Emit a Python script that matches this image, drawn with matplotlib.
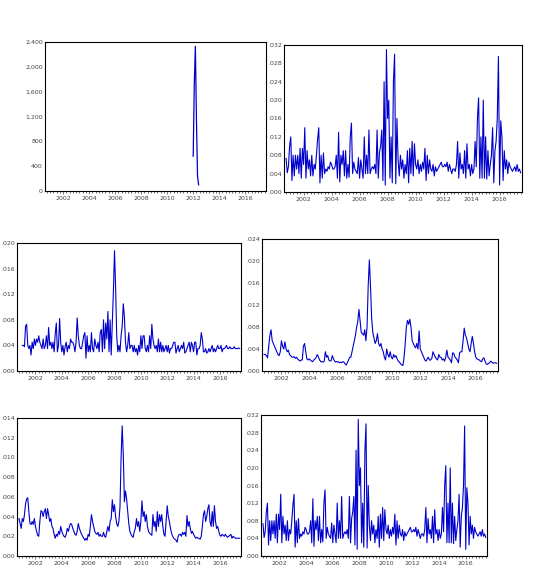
import numpy as np
import matplotlib
matplotlib.use("Agg")
import matplotlib.pyplot as plt
from matplotlib.ticker import FuncFormatter, MultipleLocator

nan = np.nan
# monthly observations starting Oct 2000 (values x1000 for panels b-f)
series_a_months = [2012.0, 2012.083, 2012.167, 2012.25, 2012.333, 2012.417]
series_a = [560, 1720, 2330, 1150, 240, 100]

series_b = [7.3, 4.2, 5.5,
 10, 12, 2.5, 8, 3.5, 8, 5, 8, 4, 9.5, 3, 9.5,
 6, 14, 3, 9, 5, 7, 3.5, 8, 3.5, 6, 5, 8,
 11.5, 14, 2, 8, 3, 8.5, 4, 5, 4.5, 5.5, 5, 6.5,
 6, 5, 5, 5.5, 8, 3, 13, 2.2, 8, 6, 9, 3.5,
 9, 3, 6, 3.2, 12, 15, 4, 6.5, 5, 4.5, 4, 7.5,
 3, 7, 5, 3, 12, 4, 8, 4, 13.5, 4, 5, 5.5,
 5, 6, 4, 13.5, 3, 8.5, 10, 13.5, 2.5, 24, 1.5, 31,
 16, 20, 3, 12, 2, 24, 30, 1.8, 16, 7, 3.5, 8,
 5, 7, 3, 6, 4, 9, 2, 9.5, 4, 11, 3.5, 10.5,
 6, 5, 7, 4, 6, 4.5, 6.5, 5, 9.5, 2.5, 8, 4,
 7, 5, 4.5, 6, 3.5, 5.5, 4.5, 5, 5.5, 6, 6.5, 5.5,
 5.5, 6, 5.5, 6.5, 4.5, 6, 5, 4, 5, 5, 4.5, 6,
 11, 3, 8.5, 5, 6, 4, 9, 3, 10.5, 5, 6, 3.5,
 6, 4, 5, 11, 5.5, 16, 20.5, 3, 12, 3, 20, 3,
 12, 2.8, 9, 3.5, 6, 8, 14, 2, 9, 11, 16, 29.5,
 1.5, 15.5, 12, 2.5, 9, 5, 7, 4, 6.5, 5.5, 5, 4.5,
 5, 5.5, 4.5, 6, 4.5, 5, 4.2]

series_c = [nan, nan, nan,
 4, 4, 3.8, 7, 7.3, 4, 3.5, 4, 2.5, 4.5, 3.5, 5,
 4, 5, 4.5, 5.5, 4.5, 4, 3.5, 5, 3.5, 4, 5.5, 3.5,
 6.8, 4, 4.5, 3.5, 4.5, 3, 5.8, 7.5, 3, 4, 8.2, 4.5,
 3, 4, 2.5, 3.8, 4.5, 3, 4, 3.5, 5, 4.5, 4.5, 4,
 3, 4.5, 8.3, 5.5, 4, 3.5, 3.5, 4.5, 5.5, 6, 2, 5.5,
 3, 4, 3, 6, 3.5, 3, 5, 4, 3.5, 4.5, 3, 6,
 6.5, 3, 8, 3.5, 7.5, 5, 9.3, 3, 8, 2.5, 7.5, 12.5,
 18.8, 13, 5.5, 3, 4, 3, 5.5, 7, 10.5, 8.5, 4.5, 3,
 4, 6, 3.5, 4, 4, 3, 4, 3, 3.5, 2.5, 4, 3,
 5.5, 3.5, 5.5, 5.5, 3.5, 3, 4, 3, 5.5, 3.5, 7.3, 5,
 4, 3.5, 4, 3, 5, 3, 4.5, 3, 4, 3, 3.5, 4,
 3, 4, 2.8, 3.5, 3.5, 4, 4.5, 4.5, 2.8, 3.5, 4, 3,
 3.5, 4, 3.5, 4.5, 2.8, 3, 3.5, 4, 4.5, 3, 4.5, 4,
 3, 4.5, 4.5, 2.5, 3.5, 3.5, 4, 6, 5, 3, 3, 3.5,
 2.8, 3, 3.5, 3, 3.5, 4, 3, 3.5, 3, 3.5, 4, 3.5,
 3.5, 4, 3, 3.5, 3.5, 3.7, 4, 3.5, 3.5, 3.8, 3.5, 3.5,
 3.5, 3.8, 3.5, 3.5, 3.5, 3.6, 3.5]

series_d = [3, 3, 2.8,
 2.4, 4.5, 6.5, 7.5, 5.5, 5, 4.5, 4, 3.5, 3, 2.8, 3.5,
 5.5, 4.5, 4, 5.3, 4, 3.5, 3.8, 3, 2.8, 2.5, 2.5, 2.6,
 2.3, 2.5, 2.2, 2, 1.8, 2, 2, 4.5, 5, 3.5, 2.2, 2,
 2.2, 2, 1.8, 1.7, 2, 2.2, 2.5, 3, 2.5, 2, 1.7, 1.7,
 1.6, 1.8, 3.5, 2.5, 2.8, 2, 1.8, 1.9, 2.8, 2.2, 1.8, 1.6,
 1.7, 1.7, 1.5, 1.6, 1.5, 1.7, 1.6, 1.3, 1.1, 1.5, 2, 2.5,
 2.5, 3.5, 4.5, 5.5, 6.5, 8, 9, 11.2, 9, 7, 6.8, 6.5,
 7.5, 5.5, 8, 15.5, 20.2, 15.3, 9.5, 7, 6, 5, 5.5, 6.8,
 5, 4.5, 5, 4, 3.5, 2.5, 2, 4, 3, 2.5, 3.5, 2.5,
 2.2, 3, 2.5, 2.8, 2.2, 1.8, 1.6, 1.3, 1.1, 1, 2.5, 5,
 8, 9.2, 8.5, 9.4, 8, 5.5, 5, 4.5, 4.2, 5, 4, 7.3,
 4, 3.5, 3, 2.5, 2, 1.8, 2.2, 2.5, 2, 2, 2.3, 3.5,
 3, 2.5, 2.2, 2, 3, 2.5, 2.5, 2, 2.2, 1.8, 2.5, 3.8,
 2.5, 2.3, 2, 1.5, 3.3, 3.2, 2.5, 2.3, 2, 1.5, 3.3, 3.5,
 3.5, 5.5, 7.8, 6.5, 6, 5, 4, 3.5, 5, 6.3, 5, 3.5,
 2.5, 2.2, 2.1, 2, 1.8, 1.7, 2.2, 2.4, 1.8, 1.3, 1.2, 1.4,
 1.5, 1.8, 1.6, 1.4, 1.5, 1.5, 1.4]

series_e = [3.8, 3.3, 2.8,
 3.8, 3.5, 4.2, 5.3, 5.8, 5.9, 4.5, 3.3, 3.2, 3.5, 3.2, 3.8,
 3, 2.5, 2.1, 2, 3.5, 4.6, 4.5, 4, 4.5, 4.8, 3.8, 4.8,
 4.2, 3.5, 3.8, 3, 2.8, 2.2, 1.8, 2.2, 2, 2.5, 2.2, 3,
 2.5, 2.2, 2, 1.9, 2.2, 2.8, 2.5, 3, 3.3, 3.2, 2.8, 2.5,
 2.2, 2.1, 2.5, 3.3, 2.8, 2.5, 2.2, 2, 1.8, 1.6, 1.8, 1.6,
 2.2, 2, 3, 4.2, 3.5, 3, 2.5, 2.3, 2.2, 2.4, 2, 2.2,
 2, 2, 2.4, 2, 1.9, 2.5, 3, 2.5, 3.5, 3.8, 5.7, 4.5,
 5.2, 4, 3.3, 3, 3.5, 5, 10, 13.2, 10.3, 5.5, 6.6, 5.8,
 4.5, 3.3, 2.5, 2.2, 2, 1.9, 2.5, 2.8, 3.8, 3, 3.5, 2.5,
 3.5, 5.6, 4, 4.5, 3.5, 4.2, 3, 2.5, 2.3, 2.2, 2.1, 4.2,
 3, 3.5, 2.5, 4.5, 3, 4.2, 3.5, 4.2, 3, 2.2, 2, 3.5,
 5.1, 4, 3.5, 2.8, 2.3, 2, 1.8, 1.7, 1.6, 1.4, 2, 2.2,
 2.2, 2, 2.4, 2.2, 2.4, 2, 4.1, 3, 3.5, 2.8, 2.3, 2.5,
 2.2, 2, 1.8, 1.9, 1.8, 1.8, 1.7, 2, 3, 4.2, 4.6, 3.5,
 4, 4.8, 5.2, 3.5, 3, 4.5, 3, 5.1, 3.5, 2.8, 3, 2.5,
 2.1, 2, 2.2, 2.1, 2, 2.2, 2, 1.9, 2, 2.1, 2.2, 1.8,
 2, 1.9, 1.8, 1.8, 1.8, 1.8, 1.8]

series_f = [7.3, 4.2, 5.5,
 10, 12, 2.5, 8, 3.5, 8, 5, 8, 4, 9.5, 3, 9.5,
 6, 14, 3, 9, 5, 7, 3.5, 8, 3.5, 6, 5, 8,
 11.5, 14, 2, 8, 3, 8.5, 4, 5, 4.5, 5.5, 5, 6.5,
 6, 5, 5, 5.5, 8, 3, 13, 2.2, 8, 6, 9, 3.5,
 9, 3, 6, 3.2, 12, 15, 4, 6.5, 5, 4.5, 4, 7.5,
 3, 7, 5, 3, 12, 4, 8, 4, 13.5, 4, 5, 5.5,
 5, 6, 4, 13.5, 3, 8.5, 10, 13.5, 2.5, 24, 1.5, 31,
 16, 20, 3, 12, 2, 24, 30, 1.8, 16, 7, 3.5, 8,
 5, 7, 3, 6, 4, 9, 2, 9.5, 4, 11, 3.5, 10.5,
 6, 5, 7, 4, 6, 4.5, 6.5, 5, 9.5, 2.5, 8, 4,
 7, 5, 4.5, 6, 3.5, 5.5, 4.5, 5, 5.5, 6, 6.5, 5.5,
 5.5, 6, 5.5, 6.5, 4.5, 6, 5, 4, 5, 5, 4.5, 6,
 11, 3, 8.5, 5, 6, 4, 9, 3, 10.5, 5, 6, 3.5,
 6, 4, 5, 11, 5.5, 16, 20.5, 3, 12, 3, 20, 3,
 12, 2.8, 9, 3.5, 6, 8, 14, 2, 9, 11, 16, 29.5,
 1.5, 15.5, 12, 2.5, 9, 5, 7, 4, 6.5, 5.5, 5, 4.5,
 5, 5.5, 4.5, 6, 4.5, 5, 4.2]

year_labels = [2002, 2004, 2006, 2008, 2010, 2012, 2014, 2016]

fig = plt.figure(figsize=(5.54, 5.84), dpi=100)
W, H = 554, 584
def add(l, r, t, b):
    return fig.add_axes([l / W, 1 - b / H, (r - l) / W, (b - t) / H])

panels = [
    (add(45, 266, 42, 191), None, 2400, 400, 'int'),
    (add(284, 522, 45, 192), series_b, 32, 4, 'dec'),
    (add(17, 241, 243, 371), series_c, 20, 4, 'dec'),
    (add(262, 498, 239, 371), series_d, 24, 4, 'dec'),
    (add(17, 241, 418, 556), series_e, 14, 2, 'dec'),
    (add(261, 487, 415, 556), series_f, 32, 4, 'dec'),
]

color = '#0000CC'
for ax, s, ymax, step, kind in panels:
    if s is None:
        ax.plot(series_a_months, series_a, color=color, lw=0.9)
        ax.set_ylim(0, ymax)
        ax.yaxis.set_major_locator(MultipleLocator(step))
        ax.yaxis.set_major_formatter(FuncFormatter(lambda v, p: f"{int(round(v)):,}"))
    else:
        x = 2000.75 + np.arange(len(s)) / 12.0
        ax.plot(x, np.array(s) / 1000.0, color=color, lw=0.8)
        ax.set_ylim(0, ymax / 1000.0)
        ax.yaxis.set_major_locator(MultipleLocator(step / 1000.0))
        ax.yaxis.set_major_formatter(FuncFormatter(lambda v, p: f"{v:.3f}".lstrip('0') if v > 1e-9 else ".000"))
    ax.set_xlim(2000.6, 2017.6)
    ax.set_xticks(year_labels)
    ax.set_xticklabels([str(y) for y in year_labels])
    ax.xaxis.set_minor_locator(MultipleLocator(0.25))
    ax.tick_params(axis='both', labelsize=4.5, colors='#444444', length=2, width=0.5, pad=1.5)
    ax.tick_params(axis='x', which='minor', length=1.5, width=0.4)
    ax.tick_params(axis='y', length=0)
    for sp in ax.spines.values():
        sp.set_linewidth(0.8)

fig.savefig('out.png', dpi=100)
